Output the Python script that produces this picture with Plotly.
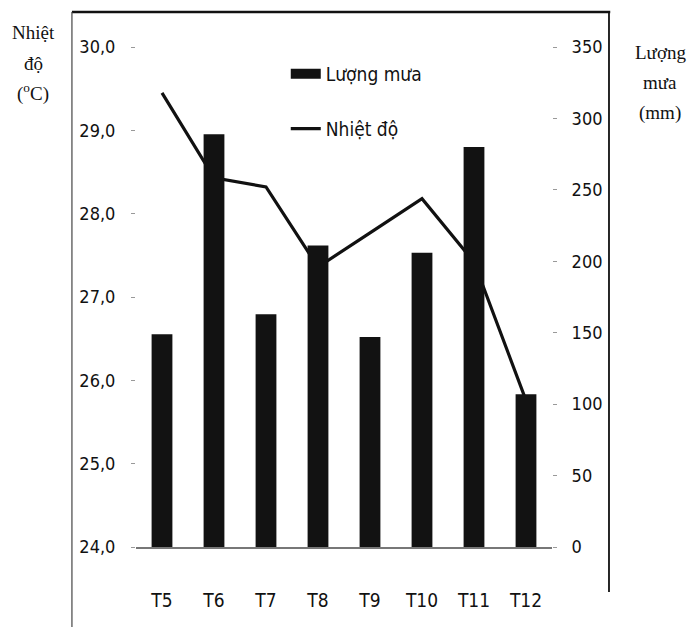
import plotly.graph_objects as go

months = ["T5", "T6", "T7", "T8", "T9", "T10", "T11", "T12"]
rainfall_mm = [149, 289, 163, 211, 147, 206, 280, 107]
temperature_c = [29.45, 28.43, 28.32, 27.36, 27.77, 28.18, 27.42, 25.76]
temp_ticks = [24.0, 25.0, 26.0, 27.0, 28.0, 29.0, 30.0]
rain_ticks = [0, 50, 100, 150, 200, 250, 300, 350]

narrow = "Liberation Sans Narrow, DejaVu Sans Condensed, sans-serif"
serif = "Liberation Serif, Times New Roman, serif"

fig = go.Figure()
fig.add_trace(go.Bar(
    x=months, y=rainfall_mm, name="Lượng mưa", yaxis="y2",
    marker=dict(color="#121212", line=dict(width=0)),
    showlegend=False,
))
# legend proxy for the bars (wide dark swatch like the original)
fig.add_trace(go.Scatter(
    x=[months[0]], y=[None], name="Lượng mưa", mode="lines", yaxis="y2",
    line=dict(color="#121212", width=14), legendgroup="a", hoverinfo="skip",
))
fig.add_trace(go.Scatter(
    x=months, y=temperature_c, name="Nhiệt độ", mode="lines",
    line=dict(color="#111111", width=3.2),
    legendgroup="b",
))

ytickfont = dict(family=narrow, size=18, color="#111")
xtickfont = dict(family=narrow, size=19, color="#111")

fig.update_layout(
    width=698, height=627,
    margin=dict(l=128, r=154, t=39, b=88, autoexpand=False),
    paper_bgcolor="white", plot_bgcolor="white",
    separators=", ",
    bargap=0.6,
    showlegend=True,
    legend=dict(
        x=0.36, y=0.984, xanchor="left", yanchor="top",
        font=dict(family=narrow, size=19, color="#111"),
        bgcolor="rgba(0,0,0,0)", tracegroupgap=27,
        traceorder="grouped",
    ),
    xaxis=dict(
        type="category", showgrid=False, showline=True, linecolor="#777", linewidth=1.5,
        ticks="", tickfont=xtickfont,
        ticklabelstandoff=35,
    ),
    yaxis=dict(
        range=[24, 30], tickvals=temp_ticks, tickformat=".1f",
        showgrid=False, showline=False, zeroline=False,
        ticks="outside", ticklen=4, tickcolor="#999", tickwidth=1,
        tickfont=ytickfont,
        ticklabelstandoff=12,
    ),
    yaxis2=dict(
        range=[0, 350], tickvals=rain_ticks, overlaying="y", side="right",
        showgrid=False, showline=False, zeroline=False,
        ticks="outside", ticklen=4, tickcolor="#999", tickwidth=1,
        tickfont=ytickfont,
        ticklabelstandoff=11,
    ),
    shapes=[
        dict(type="line", xref="paper", yref="paper", x0=-0.154, x1=1.14, y0=1.07, y1=1.07,
             line=dict(color="#111", width=2.5)),
        dict(type="line", xref="paper", yref="paper", x0=-0.154, x1=-0.154, y0=1.07, y1=-0.17,
             line=dict(color="#444", width=1.2)),
        dict(type="line", xref="paper", yref="paper", x0=1.137, x1=1.137, y0=1.07, y1=-0.09,
             line=dict(color="#111", width=1.8)),
    ],
)

left_title = ["Nhiệt", "độ", "(<sup>o</sup>C)"]
left_y = [33, 63, 93]
right_title = ["Lượng", "mưa", "(mm)"]
right_y = [52, 83, 113]
for txt, py in zip(left_title, left_y):
    fig.add_annotation(text=txt, xref="paper", yref="paper",
                       x=(33 - 136) / 416, y=(547 - py) / 500,
                       xanchor="center", yanchor="middle", showarrow=False,
                       font=dict(family=serif, size=19, color="#111"))
for txt, py in zip(right_title, right_y):
    fig.add_annotation(text=txt, xref="paper", yref="paper",
                       x=(660 - 136) / 416, y=(547 - py) / 500,
                       xanchor="center", yanchor="middle", showarrow=False,
                       font=dict(family=serif, size=19, color="#111"))

fig.write_html("out.html")
